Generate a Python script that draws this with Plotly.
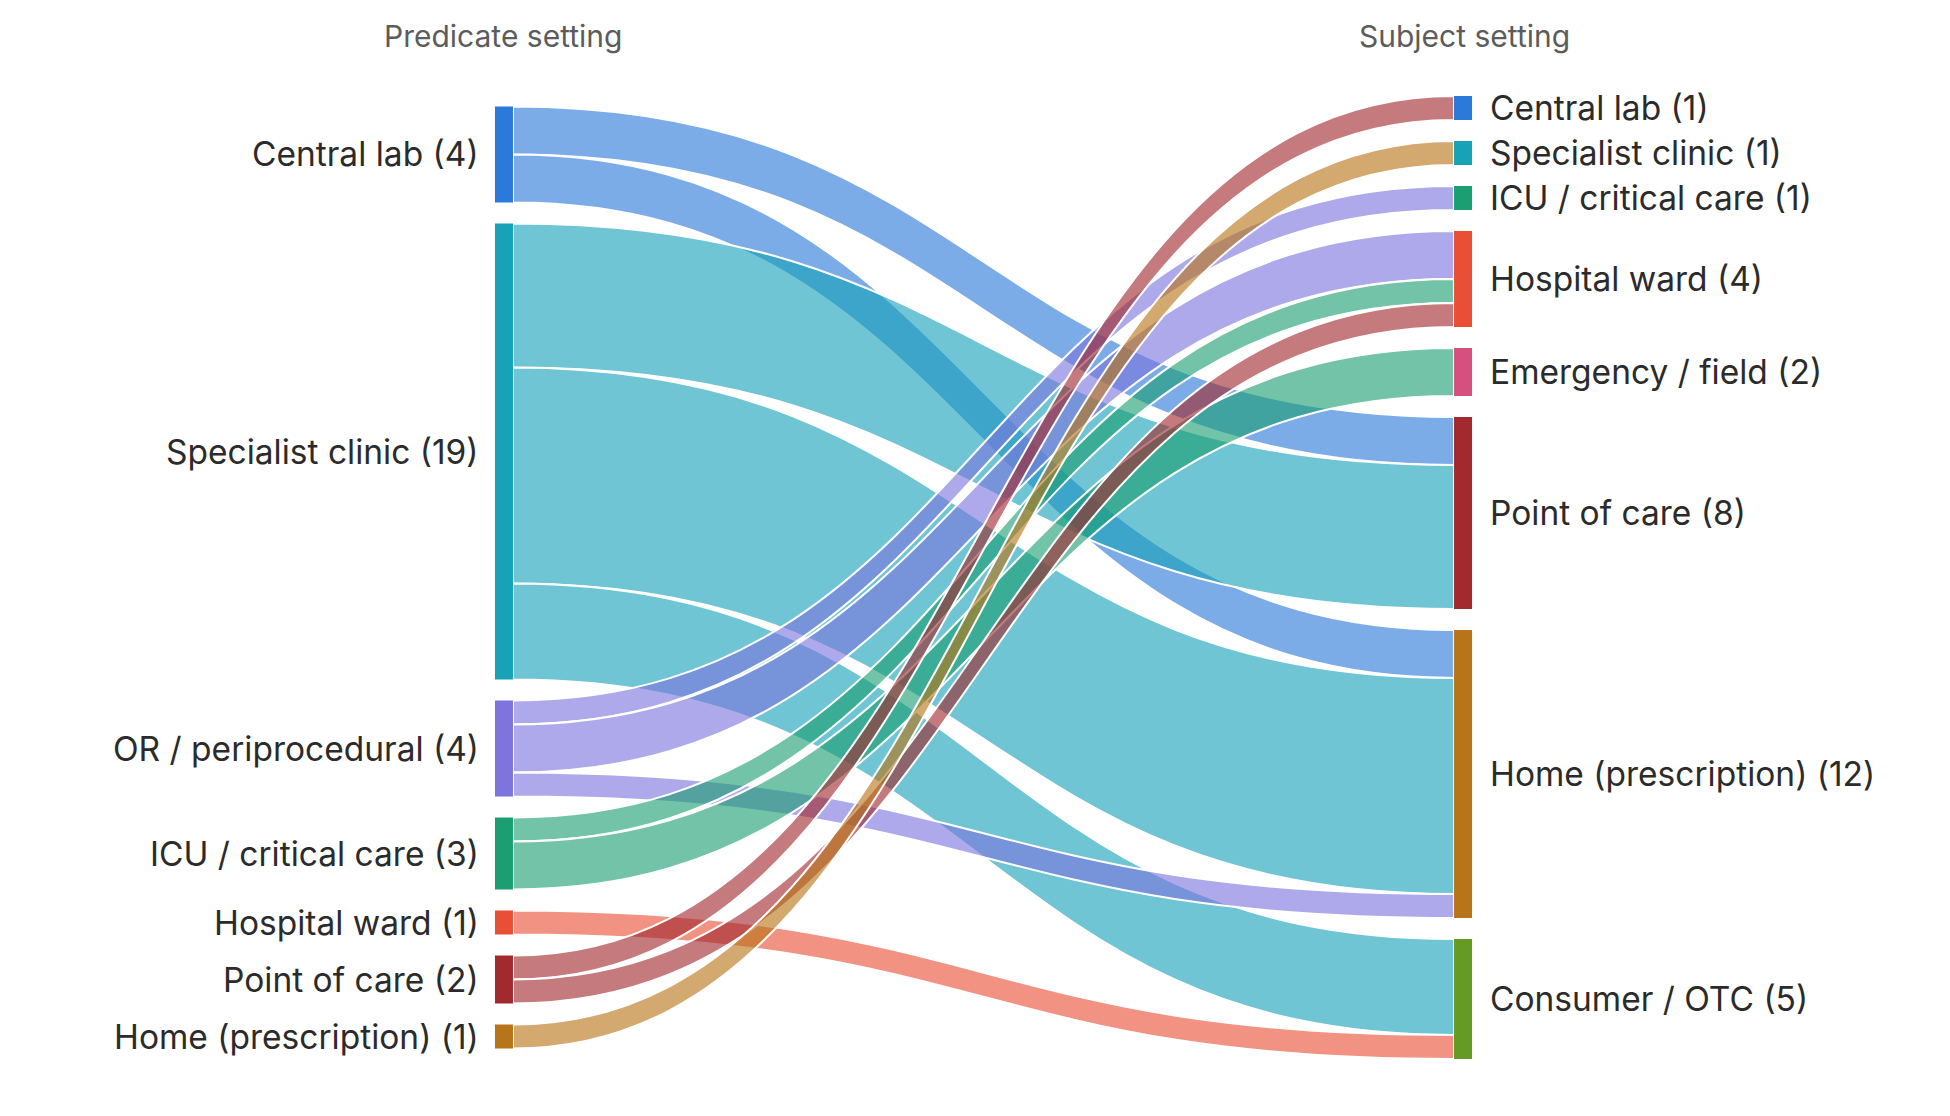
#!/usr/bin/env python3
"""Sankey: predicate device setting -> subject device setting."""

import plotly.graph_objects as go

# ---- data -------------------------------------------------------------
PREDICATE_SETTINGS = [
    "Central lab",
    "Specialist clinic",
    "OR / periprocedural",
    "ICU / critical care",
    "Hospital ward",
    "Point of care",
    "Home (prescription)",
]
SUBJECT_SETTINGS = [
    "Central lab",
    "Specialist clinic",
    "ICU / critical care",
    "Hospital ward",
    "Emergency / field",
    "Point of care",
    "Home (prescription)",
    "Consumer / OTC",
]

FLOW_FROM = [
    "Central lab", "Central lab",
    "Specialist clinic", "Specialist clinic", "Specialist clinic",
    "OR / periprocedural", "OR / periprocedural", "OR / periprocedural",
    "ICU / critical care", "ICU / critical care",
    "Hospital ward",
    "Point of care", "Point of care",
    "Home (prescription)",
]
FLOW_TO = [
    "Point of care", "Home (prescription)",
    "Point of care", "Home (prescription)", "Consumer / OTC",
    "ICU / critical care", "Hospital ward", "Home (prescription)",
    "Hospital ward", "Emergency / field",
    "Consumer / OTC",
    "Central lab", "Hospital ward",
    "Specialist clinic",
]
FLOW_COUNT = [2, 2, 6, 9, 4, 1, 2, 1, 1, 2, 1, 1, 1, 1]

SETTING_COLORS = {
    "Central lab": "#2B79D8",
    "Specialist clinic": "#17A2B8",
    "OR / periprocedural": "#7D75DD",
    "ICU / critical care": "#1B9E72",
    "Hospital ward": "#E84F35",
    "Emergency / field": "#D5507F",
    "Point of care": "#A2292D",
    "Home (prescription)": "#B87418",
    "Consumer / OTC": "#659A24",
}

# ---- layout constants --------------------------------------------------
W, H = 1950, 1116
MARGIN = dict(l=495, r=494, t=88, b=65)
NODE_PAD = 21
NODE_THICK = 18
FONT = "Inter, 'Open Sans', sans-serif"
TEXT_COLOR = "#2b2b2b"


def rgba(hex_color: str, alpha: float) -> str:
    h = hex_color.lstrip("#")
    r, g, b = (int(h[i:i + 2], 16) for i in (0, 2, 4))
    return f"rgba({r},{g},{b},{alpha})"


def column_centers(values, plot_h, pad, ky):
    """Stack nodes top-to-bottom with a fixed pad, centred in the column."""
    span = sum(values) * ky + (len(values) - 1) * pad
    y = (plot_h - span) / 2
    out = []
    for v in values:
        h = v * ky
        out.append((y + h / 2) / plot_h)
        y += h + pad
    return out


left_vals = [sum(c for f, c in zip(FLOW_FROM, FLOW_COUNT) if f == s) for s in PREDICATE_SETTINGS]
right_vals = [sum(c for t, c in zip(FLOW_TO, FLOW_COUNT) if t == s) for s in SUBJECT_SETTINGS]

plot_h = H - MARGIN["t"] - MARGIN["b"]
total = sum(FLOW_COUNT)
ky = min(
    (plot_h - (len(left_vals) - 1) * NODE_PAD) / total,
    (plot_h - (len(right_vals) - 1) * NODE_PAD) / total,
)
left_y = column_centers(left_vals, plot_h, NODE_PAD, ky)
right_y = column_centers(right_vals, plot_h, NODE_PAD, ky)

n_left = len(PREDICATE_SETTINGS)
node_names = PREDICATE_SETTINGS + SUBJECT_SETTINGS
node_colors = [SETTING_COLORS[s] for s in node_names]
node_x = [0.001] * n_left + [0.999] * len(SUBJECT_SETTINGS)
node_y = left_y + right_y

src = [PREDICATE_SETTINGS.index(f) for f in FLOW_FROM]
tgt = [n_left + SUBJECT_SETTINGS.index(t) for t in FLOW_TO]

fig = go.Figure(
    go.Sankey(
        arrangement="fixed",
        node=dict(
            label=[""] * len(node_names),
            customdata=node_names,
            hovertemplate="%{customdata}: %{value}<extra></extra>",
            x=node_x,
            y=node_y,
            pad=NODE_PAD,
            thickness=NODE_THICK,
            color=node_colors,
            line=dict(width=0),
        ),
        link=dict(
            source=src,
            target=tgt,
            value=FLOW_COUNT,
            color=[rgba(SETTING_COLORS[f], 0.62) for f in FLOW_FROM],
            line=dict(color="white", width=2),
        ),
    )
)

label_font = dict(family=FONT, size=33.5, color=TEXT_COLOR)
annotations = []
for name, v, y in zip(PREDICATE_SETTINGS, left_vals, left_y):
    annotations.append(dict(
        x=0, y=1 - y, xref="paper", yref="paper", xanchor="right", yanchor="middle",
        xshift=-22, text=f"{name} ({v})", showarrow=False, font=label_font,
    ))
for name, v, y in zip(SUBJECT_SETTINGS, right_vals, right_y):
    annotations.append(dict(
        x=1, y=1 - y, xref="paper", yref="paper", xanchor="left", yanchor="middle",
        xshift=24, text=f"{name} ({v})", showarrow=False, font=label_font,
    ))
for x, title in ((0, "Predicate setting"), (1, "Subject setting")):
    annotations.append(dict(
        x=x, y=1, xref="paper", yref="paper", xanchor="center", yanchor="middle",
        yshift=60, text=title, showarrow=False,
        font=dict(family=FONT, size=30, color="#5c5c5c"),
    ))

fig.update_layout(
    width=W,
    height=H,
    margin=MARGIN,
    paper_bgcolor="white",
    plot_bgcolor="white",
    font=dict(family=FONT, color=TEXT_COLOR),
    annotations=annotations,
)

fig.write_html("out.html")
